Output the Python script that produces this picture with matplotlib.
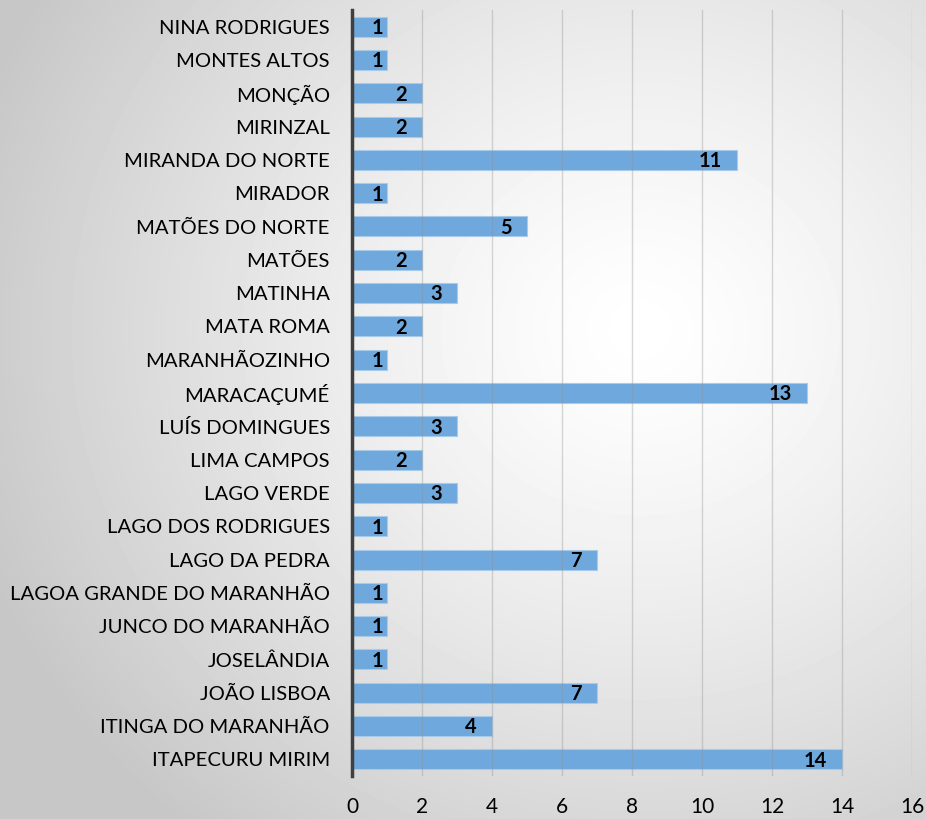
import numpy as np
import matplotlib.pyplot as plt

# dados (de cima para baixo no gráfico)
municipios = [
    "NINA RODRIGUES", "MONTES ALTOS", "MONÇÃO", "MIRINZAL", "MIRANDA DO NORTE",
    "MIRADOR", "MATÕES DO NORTE", "MATÕES", "MATINHA", "MATA ROMA",
    "MARANHÃOZINHO", "MARACAÇUMÉ", "LUÍS DOMINGUES", "LIMA CAMPOS", "LAGO VERDE",
    "LAGO DOS RODRIGUES", "LAGO DA PEDRA", "LAGOA GRANDE DO MARANHÃO",
    "JUNCO DO MARANHÃO", "JOSELÂNDIA", "JOÃO LISBOA", "ITINGA DO MARANHÃO",
    "ITAPECURU MIRIM",
]
valores = [1, 1, 2, 2, 11, 1, 5, 2, 3, 2, 1, 13, 3, 2, 3, 1, 7, 1, 1, 1, 7, 4, 14]
xticks = [0, 2, 4, 6, 8, 10, 12, 14, 16]

plt.rcParams['font.family'] = ['Lato', 'DejaVu Sans']

fig = plt.figure(figsize=(9.26, 8.19), dpi=100)

# fundo com gradiente radial
bg = fig.add_axes([0, 0, 1, 1], zorder=-10)
yy, xx = np.mgrid[0:819, 0:926]
r = np.sqrt(((xx - 640) / 700.0) ** 2 + ((yy - 330) / 650.0) ** 2)
r = np.clip(r, 0, 1)
cinza = 1.0 - 0.22 * r ** 1.3
bg.imshow(cinza, cmap='gray', vmin=0, vmax=1, aspect='auto', interpolation='bilinear')
bg.axis('off')

ax = fig.add_axes([352 / 926, 1 - 776 / 819, 560 / 926, 766 / 819])
ax.patch.set_alpha(0)

y = np.arange(len(municipios))
ax.barh(y, valores, height=0.6, color='#6fa8dc', edgecolor='#a9cbea', linewidth=0.8, zorder=2)

for yi, v in zip(y, valores):
    off = 0.43 if v > 1 else 0.1
    ax.text(v - off, yi + 0.04, str(v), ha='right', va='center', fontsize=14.5,
            fontweight='bold', color='black', zorder=4)

ax.set_xlim(0, 16)
ax.set_ylim(len(municipios) - 0.5, -0.5)
ax.set_yticks(y)
ax.set_yticklabels(municipios, fontsize=14.6)
ax.set_xticks(xticks)
ax.set_xticklabels([str(t) for t in xticks], fontsize=15)
ax.tick_params(axis='both', length=0)
ax.tick_params(axis='x', pad=15)
ax.tick_params(axis='y', pad=16)

ax.grid(axis='x', color='#8f8f8f', linewidth=1, alpha=0.35, zorder=3)
ax.set_axisbelow(False)

for s in ['top', 'right', 'bottom']:
    ax.spines[s].set_visible(False)
ax.spines['left'].set_color('#404040')
ax.spines['left'].set_linewidth(2.5)
ax.spines['left'].set_zorder(5)

fig.savefig('out.png', dpi=100)
